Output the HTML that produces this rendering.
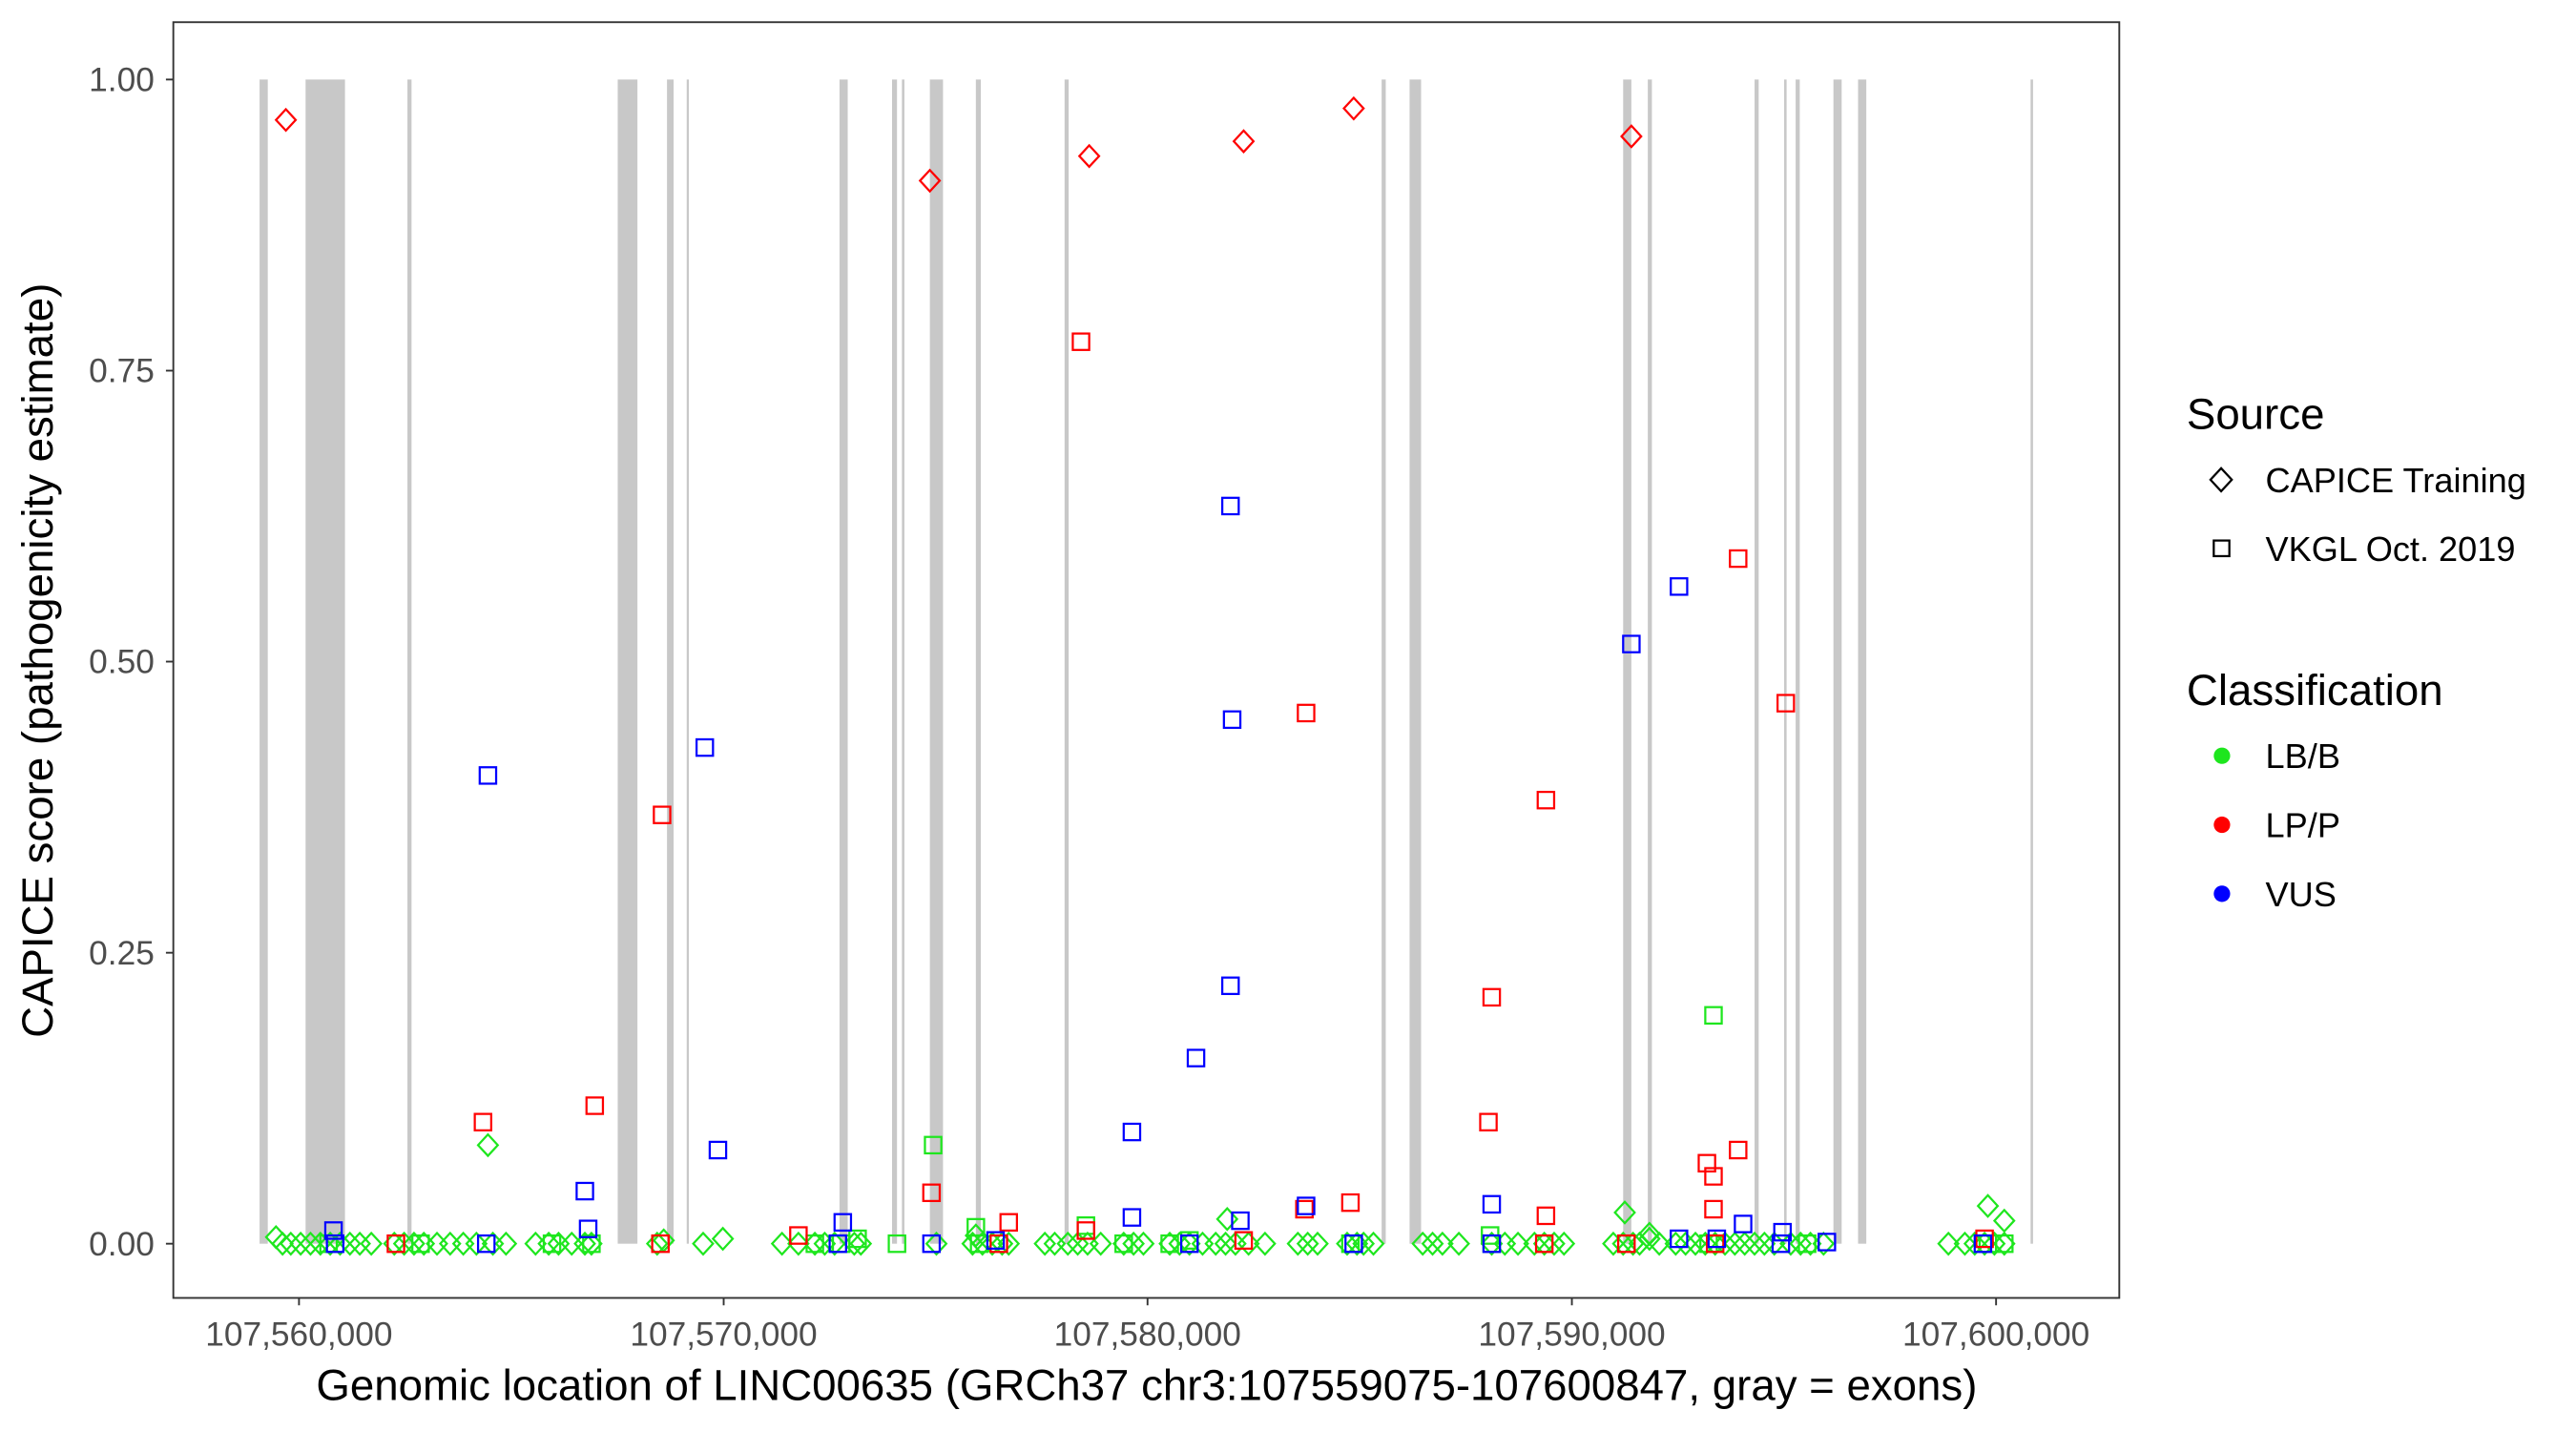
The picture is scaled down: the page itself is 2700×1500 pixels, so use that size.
<!DOCTYPE html>
<html><head><meta charset="utf-8"><style>
html,body{margin:0;padding:0;background:#fff;}
svg{display:block;}
text{font-family:"Liberation Sans",Arial,sans-serif;}
</style></head><body>
<svg width="2700" height="1500" viewBox="0 0 1568 871" preserveAspectRatio="none" xmlns="http://www.w3.org/2000/svg">
<defs>
<path id="dg" d="M0,-6.5 L6,0 L0,6.5 L-6,0 Z" fill="none" stroke="#1ee61e" stroke-width="1.3"/>
<path id="dr" d="M0,-6.5 L6,0 L0,6.5 L-6,0 Z" fill="none" stroke="#ff0000" stroke-width="1.3"/>
<rect id="sg" x="-5" y="-5" width="10" height="10" fill="none" stroke="#1ee61e" stroke-width="1.3"/>
<rect id="sr" x="-5" y="-5" width="10" height="10" fill="none" stroke="#ff0000" stroke-width="1.3"/>
<rect id="sb" x="-5" y="-5" width="10" height="10" fill="none" stroke="#0000ff" stroke-width="1.3"/>
</defs>
<rect x="0" y="0" width="1568" height="871" fill="#fff"/>
<g fill="#c8c8c8">
<rect x="158" y="48.4" width="5" height="708.6"/>
<rect x="186" y="48.4" width="24" height="708.6"/>
<rect x="248" y="48.4" width="2.5" height="708.6"/>
<rect x="376" y="48.4" width="12" height="708.6"/>
<rect x="406" y="48.4" width="4" height="708.6"/>
<rect x="418" y="48.4" width="1.3" height="708.6"/>
<rect x="511" y="48.4" width="5" height="708.6"/>
<rect x="543" y="48.4" width="3" height="708.6"/>
<rect x="549" y="48.4" width="1.5" height="708.6"/>
<rect x="566" y="48.4" width="8" height="708.6"/>
<rect x="594" y="48.4" width="3" height="708.6"/>
<rect x="648" y="48.4" width="2.5" height="708.6"/>
<rect x="841" y="48.4" width="2.5" height="708.6"/>
<rect x="858" y="48.4" width="7" height="708.6"/>
<rect x="988" y="48.4" width="5" height="708.6"/>
<rect x="1003" y="48.4" width="2.5" height="708.6"/>
<rect x="1068" y="48.4" width="2.5" height="708.6"/>
<rect x="1086" y="48.4" width="1.5" height="708.6"/>
<rect x="1093" y="48.4" width="2.5" height="708.6"/>
<rect x="1116" y="48.4" width="5" height="708.6"/>
<rect x="1131" y="48.4" width="5" height="708.6"/>
<rect x="1236" y="48.4" width="1.5" height="708.6"/>
</g>
<g>
<use href="#dg" x="168" y="753"/><use href="#dg" x="172" y="757"/><use href="#dg" x="177" y="757"/><use href="#dg" x="183" y="757"/><use href="#dg" x="189" y="757"/><use href="#dg" x="195" y="757"/><use href="#dg" x="201" y="757"/><use href="#dg" x="207" y="757"/><use href="#dg" x="213" y="757"/><use href="#dg" x="219" y="757"/><use href="#dg" x="226" y="757"/>
<use href="#dg" x="240" y="757"/><use href="#dg" x="246" y="757"/><use href="#dg" x="252" y="757"/><use href="#dg" x="258" y="757"/><use href="#dg" x="266" y="757"/><use href="#dg" x="274" y="757"/><use href="#dg" x="282" y="757"/><use href="#dg" x="290" y="757"/><use href="#dg" x="300" y="757"/><use href="#dg" x="308" y="757"/>
<use href="#dg" x="326" y="757"/><use href="#dg" x="334" y="757"/><use href="#dg" x="340" y="757"/><use href="#dg" x="348" y="757"/><use href="#dg" x="356" y="757"/><use href="#dg" x="360" y="757"/>
<use href="#dg" x="400" y="757"/><use href="#dg" x="404" y="755"/><use href="#dg" x="428" y="757"/><use href="#dg" x="440" y="754"/>
<use href="#dg" x="476" y="757"/><use href="#dg" x="486" y="757"/><use href="#dg" x="496" y="757"/><use href="#dg" x="502" y="757"/><use href="#dg" x="508" y="757"/><use href="#dg" x="520" y="757"/><use href="#dg" x="524" y="757"/>
<use href="#dg" x="570" y="757"/><use href="#dg" x="592" y="757"/><use href="#dg" x="598" y="757"/><use href="#dg" x="604" y="757"/><use href="#dg" x="610" y="757"/><use href="#dg" x="614" y="757"/>
<use href="#dg" x="636" y="757"/><use href="#dg" x="642" y="757"/><use href="#dg" x="650" y="757"/><use href="#dg" x="656" y="757"/><use href="#dg" x="662" y="757"/><use href="#dg" x="670" y="757"/><use href="#dg" x="684" y="757"/><use href="#dg" x="690" y="757"/><use href="#dg" x="696" y="757"/>
<use href="#dg" x="712" y="757"/><use href="#dg" x="718" y="757"/><use href="#dg" x="724" y="757"/><use href="#dg" x="732" y="757"/><use href="#dg" x="740" y="757"/><use href="#dg" x="746" y="757"/><use href="#dg" x="752" y="757"/><use href="#dg" x="760" y="757"/><use href="#dg" x="770" y="757"/>
<use href="#dg" x="790" y="757"/><use href="#dg" x="796" y="757"/><use href="#dg" x="802" y="757"/><use href="#dg" x="820" y="757"/><use href="#dg" x="826" y="757"/><use href="#dg" x="830" y="757"/><use href="#dg" x="836" y="757"/>
<use href="#dg" x="866" y="757"/><use href="#dg" x="872" y="757"/><use href="#dg" x="878" y="757"/><use href="#dg" x="888" y="757"/><use href="#dg" x="908" y="757"/><use href="#dg" x="916" y="757"/><use href="#dg" x="924" y="757"/><use href="#dg" x="934" y="757"/><use href="#dg" x="940" y="757"/><use href="#dg" x="946" y="757"/><use href="#dg" x="952" y="757"/>
<use href="#dg" x="982" y="757"/><use href="#dg" x="988" y="757"/><use href="#dg" x="994" y="757"/><use href="#dg" x="998" y="757"/><use href="#dg" x="1004" y="754"/><use href="#dg" x="1010" y="757"/><use href="#dg" x="1020" y="757"/><use href="#dg" x="1026" y="757"/><use href="#dg" x="1032" y="757"/><use href="#dg" x="1038" y="757"/><use href="#dg" x="1044" y="757"/><use href="#dg" x="1050" y="757"/><use href="#dg" x="1056" y="757"/><use href="#dg" x="1062" y="757"/><use href="#dg" x="1068" y="757"/><use href="#dg" x="1074" y="757"/><use href="#dg" x="1080" y="757"/><use href="#dg" x="1090" y="757"/><use href="#dg" x="1096" y="757"/><use href="#dg" x="1102" y="757"/><use href="#dg" x="1110" y="757"/>
<use href="#dg" x="1186" y="757"/><use href="#dg" x="1196" y="757"/><use href="#dg" x="1202" y="757"/><use href="#dg" x="1208" y="757"/><use href="#dg" x="1214" y="757"/><use href="#dg" x="1220" y="757"/>
<use href="#dg" x="297" y="697"/><use href="#dg" x="989" y="738"/><use href="#dg" x="747" y="742"/><use href="#dg" x="1210" y="734"/><use href="#dg" x="1220" y="743"/><use href="#dg" x="594" y="752"/><use href="#dg" x="1004" y="751"/>
</g>
<g>
<use href="#sg" x="200" y="757"/><use href="#sg" x="256" y="757"/><use href="#sg" x="336" y="757"/><use href="#sg" x="360" y="757"/><use href="#sg" x="496" y="757"/><use href="#sg" x="512" y="757"/><use href="#sg" x="522" y="754"/><use href="#sg" x="546" y="757"/><use href="#sg" x="596" y="757"/><use href="#sg" x="684" y="757"/><use href="#sg" x="712" y="757"/><use href="#sg" x="724" y="755"/><use href="#sg" x="822" y="757"/><use href="#sg" x="908" y="757"/><use href="#sg" x="1040" y="757"/><use href="#sg" x="1100" y="757"/><use href="#sg" x="1210" y="757"/><use href="#sg" x="1220" y="757"/>
<use href="#sg" x="568" y="697"/><use href="#sg" x="1043" y="618"/><use href="#sg" x="594" y="747"/><use href="#sg" x="661" y="746"/><use href="#sg" x="907" y="752"/>
</g>
<g>
<use href="#dr" x="174" y="73"/><use href="#dr" x="566" y="110"/><use href="#dr" x="663" y="95"/><use href="#dr" x="757" y="86"/><use href="#dr" x="824" y="66"/><use href="#dr" x="993" y="83"/>
<use href="#sr" x="658" y="208"/><use href="#sr" x="1058" y="340"/><use href="#sr" x="1087" y="428"/><use href="#sr" x="403" y="496"/><use href="#sr" x="941" y="487"/><use href="#sr" x="908" y="607"/><use href="#sr" x="294" y="683"/><use href="#sr" x="362" y="673"/><use href="#sr" x="906" y="683"/><use href="#sr" x="795" y="434"/><use href="#sr" x="1039" y="708"/><use href="#sr" x="1043" y="716"/><use href="#sr" x="1043" y="736"/><use href="#sr" x="1058" y="700"/><use href="#sr" x="567" y="726"/><use href="#sr" x="822" y="732"/><use href="#sr" x="614" y="744"/><use href="#sr" x="661" y="749"/><use href="#sr" x="941" y="740"/><use href="#sr" x="794" y="736"/>
<use href="#sr" x="241" y="757"/><use href="#sr" x="402" y="757"/><use href="#sr" x="486" y="752"/><use href="#sr" x="608" y="757"/><use href="#sr" x="757" y="755"/><use href="#sr" x="940" y="757"/><use href="#sr" x="990" y="757"/><use href="#sr" x="1044" y="757"/><use href="#sr" x="1208" y="754"/>
</g>
<g>
<use href="#sb" x="749" y="308"/><use href="#sb" x="1022" y="357"/><use href="#sb" x="993" y="392"/><use href="#sb" x="297" y="472"/><use href="#sb" x="429" y="455"/><use href="#sb" x="750" y="438"/><use href="#sb" x="749" y="600"/><use href="#sb" x="728" y="644"/><use href="#sb" x="689" y="689"/><use href="#sb" x="437" y="700"/><use href="#sb" x="356" y="725"/><use href="#sb" x="908" y="733"/><use href="#sb" x="689" y="741"/><use href="#sb" x="755" y="743"/><use href="#sb" x="795" y="734"/><use href="#sb" x="1061" y="745"/><use href="#sb" x="1085" y="750"/><use href="#sb" x="203" y="749"/><use href="#sb" x="358" y="748"/><use href="#sb" x="513" y="744"/>
<use href="#sb" x="204" y="757"/><use href="#sb" x="296" y="757"/><use href="#sb" x="510" y="757"/><use href="#sb" x="567" y="757"/><use href="#sb" x="606" y="755"/><use href="#sb" x="724" y="757"/><use href="#sb" x="824" y="757"/><use href="#sb" x="908" y="757"/><use href="#sb" x="1022" y="754"/><use href="#sb" x="1045" y="754"/><use href="#sb" x="1084" y="757"/><use href="#sb" x="1112" y="756"/><use href="#sb" x="1207" y="757"/>
</g>
<rect x="105.5" y="13.5" width="1184.5" height="776.5" fill="none" stroke="#333" stroke-width="1.1"/>
<g stroke="#333" stroke-width="1.1">
<line x1="101" y1="48.4" x2="105.5" y2="48.4"/>
<line x1="101" y1="225.6" x2="105.5" y2="225.6"/>
<line x1="101" y1="402.7" x2="105.5" y2="402.7"/>
<line x1="101" y1="579.9" x2="105.5" y2="579.9"/>
<line x1="101" y1="757" x2="105.5" y2="757"/>
<line x1="182" y1="790" x2="182" y2="794.5"/>
<line x1="440.5" y1="790" x2="440.5" y2="794.5"/>
<line x1="698.5" y1="790" x2="698.5" y2="794.5"/>
<line x1="956.8" y1="790" x2="956.8" y2="794.5"/>
<line x1="1215" y1="790" x2="1215" y2="794.5"/>
</g>
<g fill="#4d4d4d" font-size="20.5" text-anchor="end">
<text x="94" y="55.5">1.00</text>
<text x="94" y="232.7">0.75</text>
<text x="94" y="409.8">0.50</text>
<text x="94" y="587">0.25</text>
<text x="94" y="764.1">0.00</text>
</g>
<g fill="#4d4d4d" font-size="20.5" text-anchor="middle">
<text x="182" y="819">107,560,000</text>
<text x="440.5" y="819">107,570,000</text>
<text x="698.5" y="819">107,580,000</text>
<text x="956.8" y="819">107,590,000</text>
<text x="1215" y="819">107,600,000</text>
</g>
<text x="698" y="852" font-size="26.5" text-anchor="middle" fill="#000">Genomic location of LINC00635 (GRCh37 chr3:107559075-107600847, gray = exons)</text>
<text transform="translate(32,402) rotate(-90)" font-size="26.5" text-anchor="middle" fill="#000">CAPICE score (pathogenicity estimate)</text>
<text x="1331" y="261" font-size="26.5" fill="#000">Source</text>
<path d="M1352,285 L1358.5,292 L1352,299 L1345.5,292 Z" fill="none" stroke="#000" stroke-width="1.3"/>
<text x="1379" y="299.5" font-size="21" fill="#000">CAPICE Training</text>
<rect x="1347.5" y="329" width="9.5" height="9.5" fill="none" stroke="#000" stroke-width="1.3"/>
<text x="1379" y="341.5" font-size="21" fill="#000">VKGL Oct. 2019</text>
<text x="1331" y="429" font-size="26.5" fill="#000">Classification</text>
<circle cx="1352.5" cy="460" r="5" fill="#1ee61e"/>
<text x="1379" y="467.5" font-size="21" fill="#000">LB/B</text>
<circle cx="1352.5" cy="502" r="5" fill="#ff0000"/>
<text x="1379" y="509.5" font-size="21" fill="#000">LP/P</text>
<circle cx="1352.5" cy="544" r="5" fill="#0000ff"/>
<text x="1379" y="551.5" font-size="21" fill="#000">VUS</text>
</svg>
</body></html>
